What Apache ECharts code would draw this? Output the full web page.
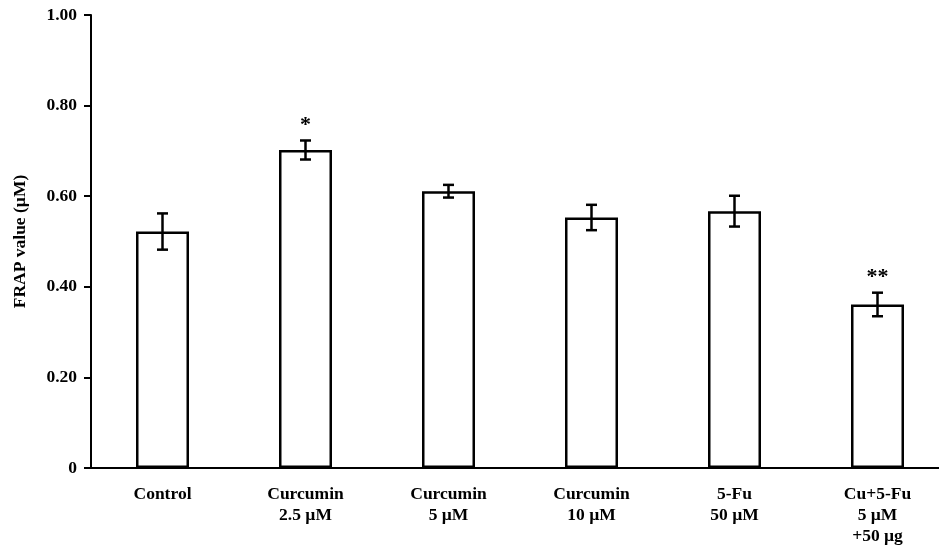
<!DOCTYPE html>
<html>
<head>
<meta charset="utf-8">
<script src="https://cdn.jsdelivr.net/npm/echarts@6/dist/echarts.min.js"></script>
<style>
  html, body { margin: 0; padding: 0; background: #fff; }
  #chart { width: 939px; height: 552px; }
</style>
</head>
<body>
<div id="chart"></div>
<script>
// FRAP values per treatment group (mean ± error)
const categories = ['Control', 'Curcumin\n2.5 µM', 'Curcumin\n5 µM', 'Curcumin\n10 µM', '5-Fu\n50 µM', 'Cu+5-Fu\n5 µM\n+50 µg'];
const frapMean = [0.522, 0.702, 0.611, 0.553, 0.567, 0.361];
const frapErr = [0.040, 0.021, 0.014, 0.028, 0.034, 0.026];
const significance = ['', '*', '', '', '', '**'];
const yTicks = [0, 0.2, 0.4, 0.6, 0.8, 1.0];

const FONT = '"Liberation Serif", "Times New Roman", serif';

const chart = echarts.init(document.getElementById('chart'), null, { renderer: 'canvas' });

function renderErrorBar(params, api) {
  const i = api.value(0);
  const mean = api.value(1);
  const err = api.value(2);
  const hi = api.coord([i, mean + err]);
  const lo = api.coord([i, mean - err]);
  const x = hi[0];
  const cap = 5.5;
  const style = { stroke: '#000', lineWidth: 2.5 };
  const children = [
    { type: 'line', shape: { x1: x, y1: hi[1], x2: x, y2: lo[1] }, style },
    { type: 'line', shape: { x1: x - cap, y1: hi[1], x2: x + cap, y2: hi[1] }, style },
    { type: 'line', shape: { x1: x - cap, y1: lo[1], x2: x + cap, y2: lo[1] }, style }
  ];
  const mark = significance[i];
  if (mark) {
    children.push({
      type: 'text',
      style: {
        x: x, y: hi[1] - 15,
        text: mark,
        align: 'center', verticalAlign: 'middle',
        font: 'bold 22px ' + FONT,
        fill: '#000'
      }
    });
  }
  return { type: 'group', children };
}

chart.setOption({
  animation: false,
  backgroundColor: '#fff',
  grid: { left: 91, top: 15, width: 858, height: 453, containLabel: false, outerBoundsMode: 'none' },
  xAxis: {
    type: 'category',
    data: categories,
    boundaryGap: true,
    axisLine: { lineStyle: { color: '#000', width: 2 } },
    axisTick: { alignWithLabel: false, length: 6, lineStyle: { color: '#000', width: 2 } },
    axisLabel: {
      color: '#000', fontFamily: FONT, fontSize: 17.5, fontWeight: 'bold',
      lineHeight: 21, margin: 16, interval: 0
    },
    splitLine: { show: false }
  },
  yAxis: {
    type: 'value',
    min: 0, max: 1, interval: 0.2,
    name: 'FRAP value (µM)',
    nameLocation: 'middle',
    nameGap: 62,
    nameTextStyle: { color: '#000', fontFamily: FONT, fontSize: 17.5, fontWeight: 'bold' },
    axisLine: { show: true, lineStyle: { color: '#000', width: 2 } },
    axisTick: { show: true, inside: false, length: 7, lineStyle: { color: '#000', width: 2 } },
    axisLabel: {
      color: '#000', fontFamily: FONT, fontSize: 17.5, fontWeight: 'bold', margin: 14,
      formatter: v => {
        const t = yTicks.find(k => Math.abs(k - v) < 1e-9);
        return t === 0 ? '0' : v.toFixed(2);
      }
    },
    splitLine: { show: false }
  },
  series: [
    {
      type: 'bar',
      data: frapMean,
      barWidth: 53,
      itemStyle: { color: '#fff', borderColor: '#000', borderWidth: 2.5 },
      z: 2
    },
    {
      type: 'custom',
      renderItem: renderErrorBar,
      data: frapMean.map((m, i) => [i, m, frapErr[i]]),
      z: 3
    }
  ]
});
</script>
</body>
</html>
